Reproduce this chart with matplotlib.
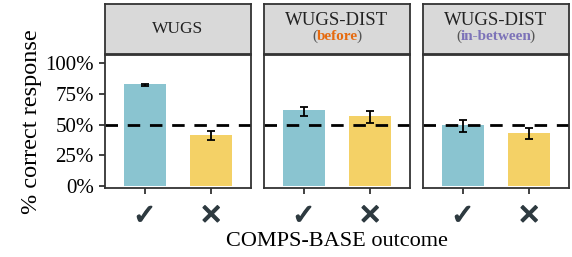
import matplotlib.pyplot as plt
import matplotlib.patheffects as pe

panels = ['WUGS', 'WUGS-DIST', 'WUGS-DIST']
subtitles = [None, 'before', 'in-between']
subtitle_colors = [None, '#E66A0E', '#7C72B8']
outcomes = ['\u2713', '\u2715']
bar_colors = ['#8AC4D0', '#F4D166']

# % correct for each panel: [check, cross]
correct = [[0.83, 0.415], [0.615, 0.57], [0.495, 0.435]]
ci_mid = [[0.825, 0.41], [0.607, 0.562], [0.488, 0.425]]
ci_err = [[0.008, 0.036], [0.038, 0.048], [0.049, 0.045]]

plt.rcParams['font.family'] = ['Liberation Serif', 'DejaVu Serif']

fig = plt.figure(figsize=(5.72, 2.57), dpi=100)
W, H = 572, 257
lefts = [105, 264, 423]
pw = 146
top, bottom = 55, 188
strip_top = 4
dark = '#333333'
mark_color = '#2E3A40'

for i in range(3):
    ax = fig.add_axes([lefts[i] / W, (H - bottom) / H, pw / W, (bottom - top) / H])
    x = [0, 1]
    ax.bar(x, correct[i], width=0.63, color=bar_colors, zorder=1)
    ax.errorbar(x, ci_mid[i], yerr=ci_err[i], fmt='none', ecolor='black',
                elinewidth=1.3, capsize=3, capthick=1.3, zorder=3)
    ax.axhline(0.5, color='black', lw=2, ls=(0, (4.5, 3.5)), zorder=2)
    ax.set_xlim(-0.6, 1.6)
    ax.set_ylim(-0.016, 1.065)
    ax.set_xticks(x)
    labels = ax.set_xticklabels(outcomes, family='DejaVu Sans', fontweight='bold', fontsize=20,
                                color=mark_color)
    for lab in labels:
        lab.set_path_effects([pe.withStroke(linewidth=1.0, foreground=mark_color)])
    ax.tick_params(axis='x', length=4, width=1.3, color=dark, pad=6)
    if i == 0:
        ax.set_yticks([0, 0.25, 0.5, 0.75, 1.0])
        ax.set_yticklabels(['0%', '25%', '50%', '75%', '100%'], fontsize=15)
        ax.tick_params(axis='y', length=4, width=1.3, color=dark, pad=4)
        ax.set_ylabel('% correct response', fontsize=17.5, labelpad=2)
    else:
        ax.set_yticks([])
    for s in ax.spines.values():
        s.set_color(dark)
        s.set_linewidth(1.3)

    # facet strip
    sax = fig.add_axes([lefts[i] / W, (H - top + 1) / H, pw / W, (top - 1 - strip_top) / H])
    sax.set_facecolor('#D9D9D9')
    sax.set_xticks([])
    sax.set_yticks([])
    for s in sax.spines.values():
        s.set_color(dark)
        s.set_linewidth(1.3)
    if subtitles[i] is None:
        sax.text(0.5, 0.5, panels[i], ha='center', va='center', fontsize=12.5, color='#222222')
    else:
        sax.text(0.5, 0.67, panels[i], ha='center', va='center', fontsize=13.5, color='#222222')
        word = sax.text(0.5, 0.35, subtitles[i], ha='center', va='center', fontsize=11,
                        fontweight='bold', color=subtitle_colors[i])
        r = fig.canvas.get_renderer()
        bb = word.get_window_extent(r).transformed(sax.transAxes.inverted())
        sax.text(bb.x0 + 0.005, 0.35, '(', ha='right', va='center', fontsize=11, color='#555555')
        sax.text(bb.x1 - 0.01, 0.35, ')', ha='left', va='center', fontsize=11, color='#555555')

fig.text((105 + 568) / 2 / W, (H - 242) / H, 'COMPS-BASE outcome', ha='center', va='center',
         fontsize=16)

plt.savefig('out.png', dpi=100)
